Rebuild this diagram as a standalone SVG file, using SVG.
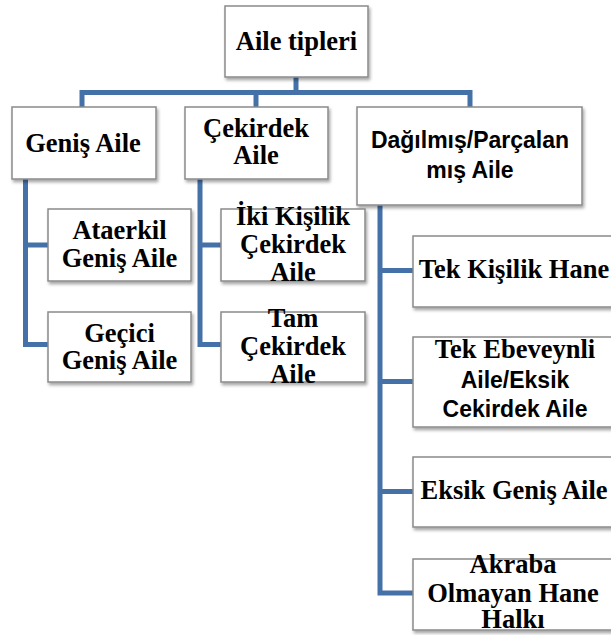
<svg xmlns="http://www.w3.org/2000/svg" width="611" height="635" viewBox="0 0 611 635">
<defs>
<filter id="sh" x="-10%" y="-10%" width="130%" height="140%">
<feDropShadow dx="1.5" dy="2.5" stdDeviation="1.5" flood-color="#000" flood-opacity="0.35"/>
</filter>
<style>
.box{fill:#fff;stroke:#8a8a8a;stroke-width:1.5;filter:url(#sh)}
.t{font-family:"Liberation Serif","Times New Roman",serif;font-weight:bold;font-size:26.5px;fill:#000;text-anchor:middle}
.s{font-family:"Liberation Sans",Arial,sans-serif;font-weight:bold;font-size:23px;fill:#000;text-anchor:middle}
.c{fill:none;stroke:#4571a9;stroke-width:5;stroke-linejoin:miter;stroke-linecap:butt}
</style>
</defs>
<rect width="611" height="635" fill="#fff"/>
<g id="connectors">
<path class="c" d="M82,108 V92.5 H470 V108"/>
<path class="c" d="M296,76 V92.5"/>
<path class="c" d="M256,92.5 V108"/>
<path class="c" d="M25.5,178 V344.5 H49"/>
<path class="c" d="M25.5,245 H49"/>
<path class="c" d="M200,178 V344.5 H222"/>
<path class="c" d="M200,245 H222"/>
<path class="c" d="M380,204 V593 H414"/>
<path class="c" d="M380,270.5 H414"/>
<path class="c" d="M380,381.5 H414"/>
<path class="c" d="M380,491.5 H414"/>
</g>
<g id="aile-tipleri">
<rect class="box" x="225" y="6" width="143" height="71"/>
<text class="t" x="296.5" y="50">Aile tipleri</text>
</g>
<g id="genis-aile">
<rect class="box" x="12" y="107" width="144" height="72"/>
<text class="t" x="83" y="152">Geniş Aile</text>
</g>
<g id="cekirdek-aile">
<rect class="box" x="185" y="107" width="143" height="72"/>
<text class="t" x="256" y="137">Çekirdek</text>
<text class="t" x="256" y="164">Aile</text>
</g>
<g id="dagilmis-aile">
<rect class="box" x="357" y="107" width="225" height="98"/>
<text class="s" x="470" y="148">Dağılmış/Parçalan</text>
<text class="s" x="470" y="178">mış Aile</text>
</g>
<g id="ataerkil">
<rect class="box" x="48" y="209" width="143" height="72"/>
<text class="t" x="119.5" y="239">Ataerkil</text>
<text class="t" x="119.5" y="267">Geniş Aile</text>
</g>
<g id="gecici">
<rect class="box" x="48" y="312" width="143" height="70"/>
<text class="t" x="119.5" y="342">Geçici</text>
<text class="t" x="119.5" y="369">Geniş Aile</text>
</g>
<g id="iki-kisilik">
<rect class="box" x="221" y="209" width="144" height="72"/>
<text class="t" x="293" y="225">İki Kişilik</text>
<text class="t" x="293" y="253">Çekirdek</text>
<text class="t" x="293" y="281">Aile</text>
</g>
<g id="tam-cekirdek">
<rect class="box" x="221" y="312" width="144" height="70"/>
<text class="t" x="293" y="327">Tam</text>
<text class="t" x="293" y="355">Çekirdek</text>
<text class="t" x="293" y="383">Aile</text>
</g>
<g id="tek-kisilik">
<rect class="box" x="413" y="236" width="202" height="71"/>
<text class="t" x="514" y="278">Tek Kişilik Hane</text>
</g>
<g id="tek-ebeveynli">
<rect class="box" x="413" y="337" width="202" height="90"/>
<text class="t" x="515" y="358">Tek Ebeveynli</text>
<text class="s" x="515" y="388">Aile/Eksik</text>
<text class="s" x="515" y="417">Cekirdek Aile</text>
</g>
<g id="eksik-genis">
<rect class="box" x="413" y="457" width="202" height="70"/>
<text class="t" x="514" y="499">Eksik Geniş Aile</text>
</g>
<g id="akraba-olmayan">
<rect class="box" x="413" y="559" width="202" height="71"/>
<text class="t" x="513" y="573">Akraba</text>
<text class="t" x="513" y="602">Olmayan Hane</text>
<text class="t" x="513" y="628">Halkı</text>
</g>
</svg>
